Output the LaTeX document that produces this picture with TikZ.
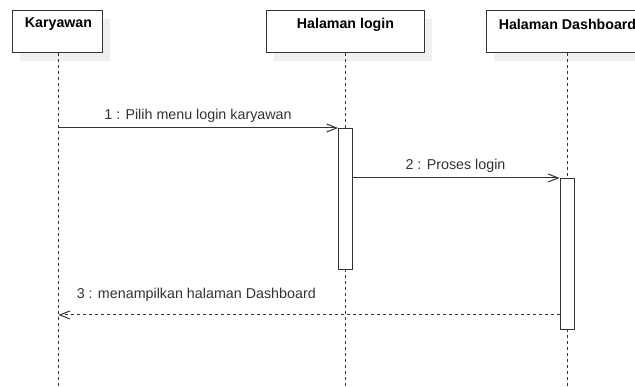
\documentclass[tikz,border=0pt]{standalone}
\usepackage{fontspec}
\setmainfont{Liberation Sans}
\usetikzlibrary{arrows.meta,shadows}
\definecolor{ink}{HTML}{333333}
\definecolor{shade}{HTML}{F0F0F0}
\tikzset{
  actorbox/.style={draw=ink, fill=white, line width=1pt, rectangle,
    minimum width=89.3pt, minimum height=42.3pt, inner sep=0pt,
    general shadow={fill=shade, shadow xshift=7.5pt, shadow yshift=-8pt}},
  headtext/.style={font=\fontsize{14.2}{17}\selectfont\bfseries, text=black, inner sep=0pt},
  msgtext/.style={font=\fontsize{14.3}{17}\selectfont, text=ink, inner sep=0pt},
  lifeline/.style={draw=ink, line width=0.9pt, dash pattern=on 3pt off 3pt},
  actbar/.style={draw=ink, fill=white, line width=1pt, rectangle,
    minimum width=14pt, inner sep=0pt},
  callmsg/.style={draw=ink, line width=1pt,
    -{Straight Barb[length=10pt,width=8pt,line width=1pt]}},
  replymsg/.style={draw=ink, line width=1pt, dash pattern=on 3pt off 3pt,
    -{Straight Barb[length=10pt,width=8pt,line width=1pt]}},
}
\begin{document}
\begin{tikzpicture}[x=1pt,y=-1pt]
  \useasboundingbox (0,0) rectangle (635,387);

  % participants
  \node[actorbox] (k) at (57.35,31.85) {};
  \node[actorbox, minimum width=158.3pt] (l) at (345.35,31.85) {};
  \node[actorbox, minimum width=162pt] (d) at (567.7,31.85) {};
  \node[headtext] (kt) at (58.5,24.5) {Karyawan};
  \node[headtext] (lt) at (345.5,24.5) {Halaman login};
  \node[headtext] (dt) at (567.5,24.5) {Halaman Dashboard};

  % lifelines
  \coordinate (kend) at (58.5,387);
  \coordinate (lend) at (345.5,387);
  \coordinate (dend) at (567,387);
  \draw[lifeline] (k.south -| kend) -- (kend);
  \draw[lifeline] (l.south -| lend) -- (lend);
  \draw[lifeline] (d.south -| dend) -- (dend);

  % activation bars
  \node[actbar, minimum height=141pt, anchor=north] (b1) at (345.5,128) {};
  \node[actbar, minimum height=151pt, anchor=north] (b2) at (567,178) {};

  % messages
  \coordinate (m1) at (58.5,128);
  \draw[callmsg] (m1) -- (b1.north west);
  \node[msgtext] (t1) at (198,116) {1 : Pilih menu login karyawan};

  \draw[callmsg] (b1.east |- b2.north) -- (b2.north west);
  \node[msgtext] (t2) at (455.5,165.7) {2 : Proses login};

  \coordinate (m3) at (58.5,315);
  \draw[replymsg] (b2.west |- m3) -- (m3);
  \node[msgtext] (t3) at (196.3,295) {3 : menampilkan halaman Dashboard};
\end{tikzpicture}
\end{document}
